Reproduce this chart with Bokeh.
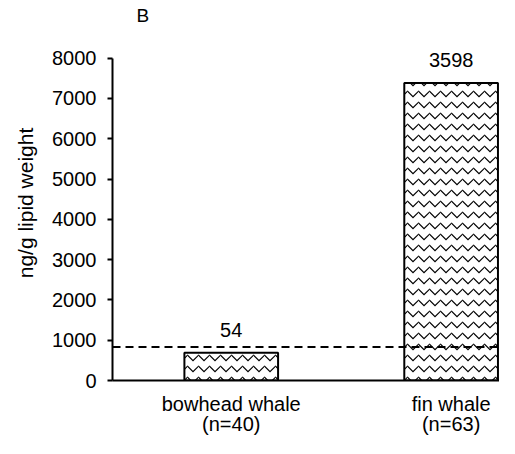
from bokeh.plotting import figure
from bokeh.models import Range1d, Title, ColumnDataSource, Span, FixedTicker
from bokeh.core.properties import value
from bokeh.embed import file_html
from bokeh.resources import INLINE

categories = ["bowhead whale\n(n=40)", "fin whale\n(n=63)"]
bar_values = [690, 7380]
value_labels = ["54", "3598"]
threshold = 830
y_ticks = [0, 1000, 2000, 3000, 4000, 5000, 6000, 7000, 8000]

FONT = "Liberation Sans"

W, H = 499, 438
FL, FT, FB = 111, 25, 54

# category slots: each category occupies one unit, centred at i + 0.5
x_pos = [i + 0.5 for i in range(len(categories))]

p = figure(width=W, height=H, output_backend="svg", toolbar_location=None,
           x_range=Range1d(-0.04, 1.72),
           y_range=Range1d(0, 8810),
           min_border_left=FL, min_border_right=0, min_border_top=FT, min_border_bottom=FB)
p.outline_line_color = None
p.xgrid.visible = False
p.ygrid.visible = False
p.background_fill_color = "white"
p.border_fill_color = "white"

src = ColumnDataSource(dict(x=x_pos, top=bar_values, lab=value_labels))
p.vbar(x="x", top="top", width=0.426, source=src, fill_color="white",
       line_color="black", line_width=2, hatch_pattern="horizontal_wave",
       hatch_color="black", hatch_scale=11, hatch_weight=1.2)
p.text(x="x", y="top", text="lab", source=src, text_align="center",
       text_baseline="bottom", y_offset=-16, text_font=value(FONT),
       text_font_size="20px", text_color="black")

p.add_layout(Span(location=threshold, dimension="width", line_color="black",
                  line_width=2, line_dash="8 5"))

p.yaxis.ticker = FixedTicker(ticks=y_ticks)
p.yaxis.bounds = (y_ticks[0], y_ticks[-1])
p.yaxis.major_tick_in = 0
p.yaxis.major_tick_out = 5
p.yaxis.minor_tick_line_color = None
p.yaxis.axis_line_width = 2
p.yaxis.major_tick_line_width = 2
p.yaxis.major_label_text_font = FONT
p.yaxis.major_label_text_font_size = "20px"
p.yaxis.major_label_text_color = "black"
p.yaxis.major_label_standoff = 11

p.xaxis.ticker = FixedTicker(ticks=x_pos)
p.xaxis.major_label_overrides = {x: c for x, c in zip(x_pos, categories)}
p.xaxis.major_tick_line_color = None
p.xaxis.minor_tick_line_color = None
p.xaxis.axis_line_width = 2
p.xaxis.major_label_text_font = FONT
p.xaxis.major_label_text_font_size = "20px"
p.xaxis.major_label_text_color = "black"
p.xaxis.major_label_text_line_height = 0.95
p.xaxis.major_label_standoff = 6

p.title.text = "B"
p.title.align = "left"
p.title.offset = 24
p.title.standoff = 0
p.title.text_font = FONT
p.title.text_font_size = "19px"
p.title.text_font_style = "normal"
p.title.text_color = "black"

p.add_layout(Title(text="ng/g lipid weight", align="center", offset=21, standoff=24,
                   vertical_align="middle",
                   text_font=FONT, text_font_size="21px", text_font_style="normal",
                   text_color="black"), "left")

open("out.html", "w").write(file_html(p, INLINE))
